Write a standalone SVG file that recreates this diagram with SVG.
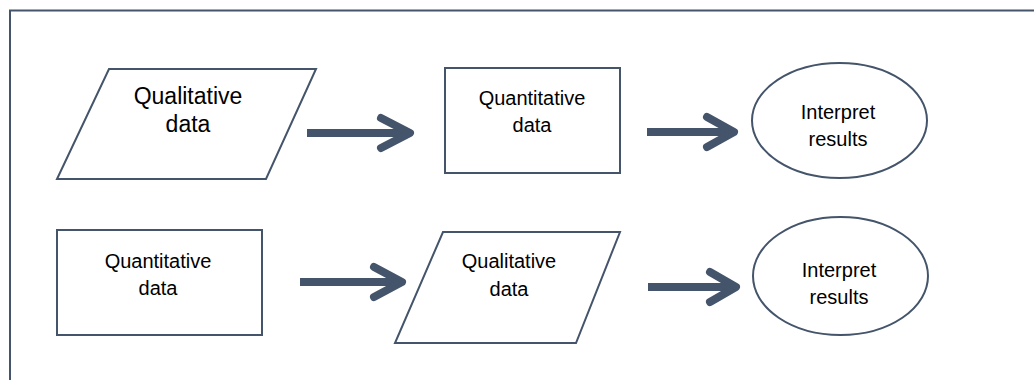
<svg xmlns="http://www.w3.org/2000/svg" width="1034" height="380" viewBox="0 0 1034 380">
<style>
.shape{fill:#fff;stroke:#44546a;stroke-width:2}
.frame{fill:none;stroke:#44546a;stroke-width:2}
.conn{fill:none;stroke:#44546a;stroke-width:8;stroke-linecap:round;stroke-linejoin:round}
.shaft{fill:none;stroke:#44546a;stroke-width:8;stroke-linecap:butt}
text{font-family:"Liberation Sans",Arial,sans-serif;fill:#000;text-anchor:middle}
.big{font-size:23px}
.t{font-size:20px}
</style>
<rect width="1034" height="380" fill="#fff"/>
<path class="frame" d="M10,380 V10.5 H1034"/>
<g id="n1">
<polygon class="shape" points="109,69 316,69 266,179 57,179"/>
<text class="big" x="188" y="104">Qualitative</text>
<text class="big" x="188" y="132">data</text>
</g>
<g id="n2">
<rect class="shape" x="445" y="68" width="175" height="105"/>
<text class="t" x="532" y="105">Quantitative</text>
<text class="t" x="532" y="132">data</text>
</g>
<g id="n3">
<ellipse class="shape" cx="839.5" cy="120.5" rx="87.5" ry="57.5"/>
<text class="t" x="838" y="119">Interpret</text>
<text class="t" x="838" y="146">results</text>
</g>
<g id="n4">
<rect class="shape" x="57" y="230" width="205" height="105"/>
<text class="t" x="158" y="268">Quantitative</text>
<text class="t" x="158" y="295">data</text>
</g>
<g id="n5">
<polygon class="shape" points="443,232 620,232 576,343 395,343"/>
<text class="t" x="509" y="268">Qualitative</text>
<text class="t" x="509" y="296">data</text>
</g>
<g id="n6">
<ellipse class="shape" cx="840.5" cy="276" rx="87.5" ry="59"/>
<text class="t" x="839" y="277">Interpret</text>
<text class="t" x="839" y="304">results</text>
</g>
<g id="connectors">
<path class="shaft" d="M307,133 H404"/>
<path class="conn" d="M381,118 L410,133 L381,148"/>
<path class="shaft" d="M647,132 H729"/>
<path class="conn" d="M707,117 L734,132 L707,147"/>
<path class="shaft" d="M300,282 H397"/>
<path class="conn" d="M374,267 L402,282 L374,297"/>
<path class="shaft" d="M648,287 H731"/>
<path class="conn" d="M710,272 L736,287 L710,302"/>
</g>
</svg>
